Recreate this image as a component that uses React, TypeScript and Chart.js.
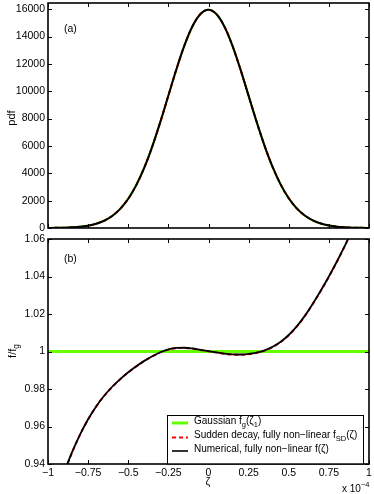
import React, { useEffect, useRef } from 'react';
import { Chart, registerables } from 'chart.js';
Chart.register(...registerables);

const FONT = '"Liberation Sans", Arial, Helvetica, sans-serif';

const zeta = [-1, -0.95, -0.9, -0.85, -0.8, -0.75, -0.7, -0.65, -0.6, -0.55, -0.5, -0.45, -0.4, -0.35, -0.3, -0.25, -0.2, -0.15, -0.1, -0.05, 0,
  0.05, 0.1, 0.15, 0.2, 0.25, 0.3, 0.35, 0.4, 0.45, 0.5, 0.55, 0.6, 0.65, 0.7, 0.75, 0.8, 0.85, 0.9, 0.95, 1];

const pdfGaussian = [5, 12, 24, 49, 95, 177, 316, 543, 895, 1418, 2159, 3157, 4434, 5986, 7764, 9674, 11582, 13323, 14724, 15634, 15950,
  15634, 14724, 13323, 11582, 9674, 7764, 5986, 4434, 3157, 2159, 1418, 895, 543, 316, 177, 95, 49, 24, 12, 5];
const pdfSuddenDecay = [5, 11, 22, 46, 91, 171, 307, 530, 878, 1397, 2135, 3132, 4412, 5971, 7761, 9685, 11604, 13350, 14748, 15648, 15953,
  15625, 14707, 13301, 11561, 9659, 7758, 5990, 4445, 3173, 2178, 1437, 912, 557, 326, 184, 100, 52, 26, 13, 5];
const pdfNumerical = [5, 11, 22, 46, 91, 171, 307, 530, 878, 1397, 2135, 3132, 4412, 5971, 7761, 9685, 11604, 13350, 14748, 15648, 15953,
  15626, 14708, 13303, 11563, 9661, 7759, 5990, 4445, 3173, 2178, 1437, 912, 557, 326, 184, 100, 52, 26, 13, 5];

const ratioGaussianX = [-1, 1];
const ratioGaussian = [1, 1];
const ratioSuddenDecay = [0.9082, 0.9225, 0.9351, 0.9461, 0.9557, 0.9638, 0.9706, 0.9763, 0.9811, 0.9852, 0.9888, 0.9920, 0.9949, 0.9974, 0.9995, 1.0010, 1.0018, 1.0019, 1.0015, 1.0008, 1.0001,
  0.9994, 0.9987, 0.9983, 0.9982, 0.9985, 0.9993, 1.0005, 1.0024, 1.0051, 1.0087, 1.0133, 1.0189, 1.0254, 1.0324, 1.0399, 1.0479, 1.0564, 1.0654, 1.0749, 1.0849];
const ratioNumerical = [0.9084, 0.9227, 0.9353, 0.9463, 0.9558, 0.9639, 0.9707, 0.9764, 0.9812, 0.9853, 0.9889, 0.9921, 0.9950, 0.9975, 0.9996, 1.0011, 1.0019, 1.0020, 1.0016, 1.0009, 1.0002,
  0.9995, 0.9989, 0.9985, 0.9984, 0.9987, 0.9994, 1.0006, 1.0025, 1.0052, 1.0088, 1.0134, 1.0190, 1.0255, 1.0325, 1.0400, 1.0480, 1.0565, 1.0655, 1.0750, 1.0850];

const xTicks = [-1, -0.75, -0.5, -0.25, 0, 0.25, 0.5, 0.75, 1];
const xTickLabels = ['\u22121', '\u22120.75', '\u22120.5', '\u22120.25', '0', '0.25', '0.5', '0.75', '1'];
const pdfTicks = [0, 2000, 4000, 6000, 8000, 10000, 12000, 14000, 16000];
const ratioTicks = [0.94, 0.96, 0.98, 1, 1.02, 1.04, 1.06];
const ratioTickLabels = ['0.94', '0.96', '0.98', '1', '1.02', '1.04', '1.06'];

const GREEN = '#66ff00';
const RED = '#ff0000';

type Part = { t: string; s?: 'sub' | 'sup' };

function richWidth(ctx: CanvasRenderingContext2D, parts: Part[], size: number) {
  let w = 0;
  for (const p of parts) {
    ctx.font = `${p.s ? size * 0.75 : size}px ${FONT}`;
    w += ctx.measureText(p.t).width;
  }
  return w;
}

function drawRich(ctx: CanvasRenderingContext2D, parts: Part[], x: number, y: number, size: number) {
  let cx = x;
  ctx.textAlign = 'left';
  ctx.textBaseline = 'middle';
  for (const p of parts) {
    const fs = p.s ? size * 0.75 : size;
    ctx.font = `${fs}px ${FONT}`;
    const dy = p.s === 'sub' ? size * 0.38 : p.s === 'sup' ? -size * 0.42 : 0;
    ctx.fillText(p.t, cx, y + dy);
    cx += ctx.measureText(p.t).width;
  }
}

function makeFrame(yTicks: number[], extra: (ctx: CanvasRenderingContext2D, chart: any) => void) {
  return {
    id: 'frame',
    afterDraw(chart: any) {
      const { ctx, chartArea: a, scales } = chart;
      ctx.save();
      ctx.strokeStyle = '#000';
      ctx.lineWidth = 1;
      ctx.beginPath();
      for (const v of xTicks) {
        const px = Math.round(scales.x.getPixelForValue(v)) + 0.5;
        ctx.moveTo(px, a.top);
        ctx.lineTo(px, a.top + 4);
        ctx.moveTo(px, a.bottom);
        ctx.lineTo(px, a.bottom - 4);
      }
      for (const v of yTicks) {
        const py = Math.round(scales.y.getPixelForValue(v)) + 0.5;
        ctx.moveTo(a.left, py);
        ctx.lineTo(a.left + 4, py);
        ctx.moveTo(a.right, py);
        ctx.lineTo(a.right - 4, py);
      }
      ctx.stroke();
      ctx.lineWidth = 1.6;
      ctx.strokeRect(a.left, a.top, a.right - a.left, a.bottom - a.top);
      ctx.fillStyle = '#000';
      extra(ctx, chart);
      ctx.restore();
    },
  };
}

function baseOptions(padding: any, yMin: number, yMax: number, yTicks: number[], yLabels: string[] | null, showX: boolean, xHeight: number) {
  return {
    animation: false as const,
    responsive: false,
    layout: { padding },
    plugins: { legend: { display: false }, tooltip: { enabled: false } },
    elements: { point: { radius: 0 } },
    scales: {
      x: {
        type: 'linear' as const,
        min: -1,
        max: 1,
        grid: { display: false, drawTicks: false },
        border: { display: false },
        ticks: {
          display: showX,
          padding: 3,
          color: '#000',
          font: { family: FONT, size: 10.5 },
          callback: (_v: any, i: number) => xTickLabels[i],
        },
        afterBuildTicks: (s: any) => { s.ticks = xTicks.map((v) => ({ value: v })); },
        afterFit: (s: any) => { s.height = xHeight; s.paddingLeft = 0; s.paddingRight = 0; },
      },
      y: {
        type: 'linear' as const,
        min: yMin,
        max: yMax,
        grid: { display: false, drawTicks: false },
        border: { display: false },
        ticks: {
          padding: 3,
          color: '#000',
          font: { family: FONT, size: 10.5 },
          callback: (v: any, i: number) => (yLabels ? yLabels[i] : String(v)),
        },
        afterBuildTicks: (s: any) => { s.ticks = yTicks.map((v) => ({ value: v })); },
        afterFit: (s: any) => { s.width = 48; s.paddingTop = 0; s.paddingBottom = 0; },
      },
    },
  };
}

function series(xs: number[], ys: number[]) {
  return xs.map((x, i) => ({ x, y: ys[i] }));
}

export default function App() {
  const refA = useRef<HTMLCanvasElement>(null);
  const refB = useRef<HTMLCanvasElement>(null);

  useEffect(() => {
    const chartA = new Chart(refA.current!, {
      type: 'line',
      data: {
        datasets: [
          { data: series(zeta, pdfNumerical), borderColor: '#000', borderWidth: 2, cubicInterpolationMode: 'monotone' },
          { data: series(zeta, pdfSuddenDecay), borderColor: RED, borderWidth: 2, borderDash: [4, 3], cubicInterpolationMode: 'monotone' },
          { data: series(zeta, pdfGaussian), borderColor: GREEN, borderWidth: 2, cubicInterpolationMode: 'monotone' },
        ],
      },
      options: baseOptions({ top: 3, left: 0, right: 5, bottom: 266 }, 0, 16450, pdfTicks, null, false, 0) as any,
      plugins: [
        makeFrame(pdfTicks, (ctx, chart) => {
          ctx.font = `10.5px ${FONT}`;
          ctx.textAlign = 'left';
          ctx.textBaseline = 'middle';
          ctx.fillText('(a)', 64, 29);
          ctx.save();
          ctx.translate(12, 118);
          ctx.rotate(-Math.PI / 2);
          ctx.textAlign = 'center';
          ctx.font = `11px ${FONT}`;
          ctx.fillText('pdf', 0, 0);
          ctx.restore();
        }),
      ],
    });

    const chartB = new Chart(refB.current!, {
      type: 'line',
      data: {
        datasets: [
          { data: series(zeta, ratioNumerical), borderColor: '#000', borderWidth: 1.8, cubicInterpolationMode: 'monotone' },
          { data: series(zeta, ratioSuddenDecay), borderColor: RED, borderWidth: 2, borderDash: [4, 3], cubicInterpolationMode: 'monotone' },
          { data: series(ratioGaussianX, ratioGaussian), borderColor: GREEN, borderWidth: 3 },
        ],
      },
      options: baseOptions({ top: 239, left: 0, right: 5, bottom: 0 }, 0.94, 1.06, ratioTicks, ratioTickLabels, true, 30) as any,
      plugins: [
        makeFrame(ratioTicks, (ctx, chart) => {
          ctx.font = `10.5px ${FONT}`;
          ctx.textAlign = 'left';
          ctx.textBaseline = 'middle';
          ctx.fillText('(b)', 64, 259);
          ctx.save();
          ctx.translate(13, 351);
          ctx.rotate(-Math.PI / 2);
          const yt: Part[] = [{ t: 'f/f' }, { t: 'g', s: 'sub' }];
          const w = richWidth(ctx, yt, 11);
          drawRich(ctx, yt, -w / 2, 0, 11);
          ctx.restore();
          ctx.font = `11px ${FONT}`;
          ctx.textAlign = 'center';
          ctx.textBaseline = 'middle';
          ctx.fillText('\u03b6', 208, 482);
          drawRich(ctx, [{ t: 'x 10' }, { t: '\u22124', s: 'sup' }], 342, 489, 10);
          const lx = 167, ly = 415, lw = 196, lh = 48.5;
          ctx.fillStyle = '#fff';
          ctx.fillRect(lx, ly, lw, lh);
          ctx.strokeStyle = '#000';
          ctx.lineWidth = 1;
          ctx.strokeRect(lx + 0.5, ly + 0.5, lw, lh);
          const rows: { parts: Part[]; color: string; width: number; dash: number[]; y: number }[] = [
            { parts: [{ t: 'Gaussian f' }, { t: 'g', s: 'sub' }, { t: '(\u03b6' }, { t: '1', s: 'sub' }, { t: ')' }], color: GREEN, width: 3, dash: [], y: 423 },
            { parts: [{ t: 'Sudden decay, fully non\u2212linear f' }, { t: 'SD', s: 'sub' }, { t: '(\u03b6)' }], color: RED, width: 2, dash: [4, 3], y: 437.5 },
            { parts: [{ t: 'Numerical, fully non\u2212linear f(\u03b6)' }], color: '#000', width: 1.6, dash: [], y: 451 },
          ];
          for (const r of rows) {
            ctx.save();
            ctx.strokeStyle = r.color;
            ctx.lineWidth = r.width;
            ctx.setLineDash(r.dash);
            ctx.beginPath();
            ctx.moveTo(172, r.y);
            ctx.lineTo(188, r.y);
            ctx.stroke();
            ctx.restore();
            ctx.fillStyle = '#000';
            drawRich(ctx, r.parts, 194, r.y - 2, 10);
          }
        }),
      ],
    });

    return () => {
      chartA.destroy();
      chartB.destroy();
    };
  }, []);

  const cs: React.CSSProperties = { position: 'absolute', left: 0, top: 0, width: 374, height: 494 };
  return (
    <div style={{ position: 'fixed', left: 0, top: 0, width: 374, height: 494, background: '#fff' }}>
      <canvas ref={refA} width={374} height={494} style={cs} />
      <canvas ref={refB} width={374} height={494} style={cs} />
    </div>
  );
}
